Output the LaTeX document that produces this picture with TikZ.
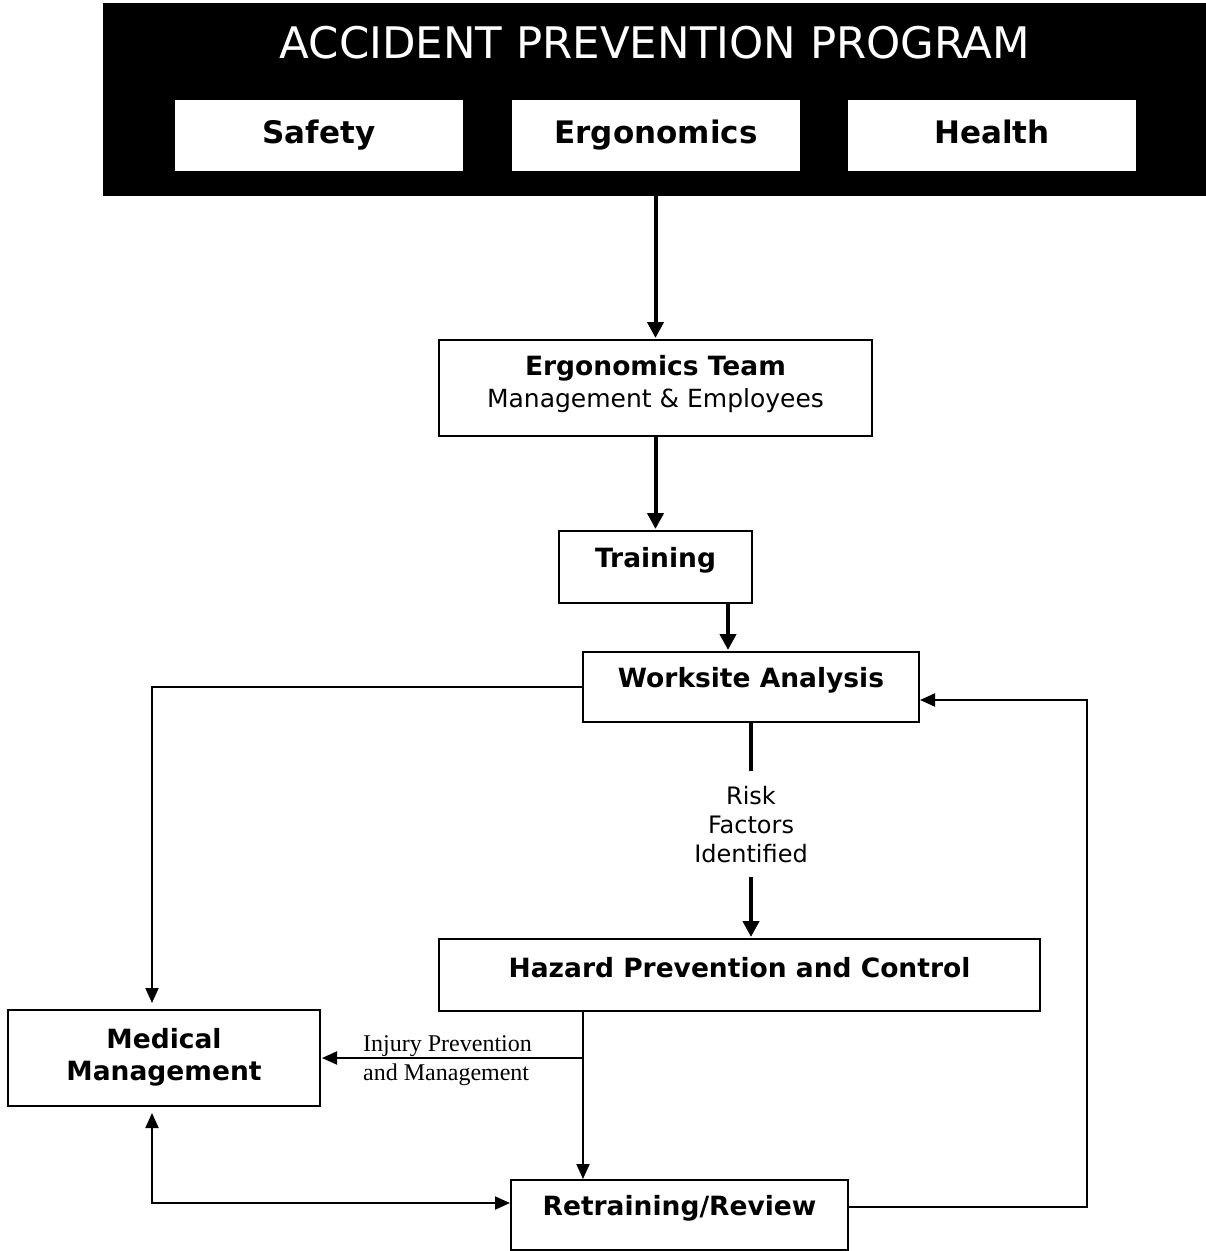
\documentclass[tikz,border=0pt]{standalone}
\usepackage{fontspec}
\setmainfont{DejaVu Sans}
\newfontfamily\notefont{Liberation Serif}
\usetikzlibrary{arrows.meta}
\begin{document}
\begin{tikzpicture}[x=1pt,y=-1pt,
  box/.style={draw, line width=2pt, fill=white, inner sep=0pt},
  boxtext/.style={inner sep=0pt, align=center, font=\fontsize{26.5}{32}\selectfont\bfseries},
  tab/.style={fill=white, inner sep=0pt, text height=23pt, text depth=7pt,
    font=\fontsize{31}{37}\selectfont\bfseries},
  mainflow/.style={line width=4pt, -{Triangle[length=16pt,width=16pt]}},
  sideflow/.style={line width=2pt, -{Triangle[length=15pt,width=13pt]}},
  bothflow/.style={line width=2pt, {Triangle[length=15pt,width=13pt]}-{Triangle[length=15pt,width=13pt]}},
  flowlabel/.style={fill=white, align=center, inner xsep=2pt, inner ysep=15pt,
    font=\fontsize{24}{29}\selectfont},
  notelabel/.style={inner sep=0pt, align=left, font=\notefont\fontsize{24}{29}\selectfont}
]
\path[use as bounding box] (0,0) rectangle (1206,1251);

% program banner
\node[fill=black, minimum width=1103pt, minimum height=193pt, inner sep=0pt, anchor=north west]
  (banner) at (103,3) {};
\node[text=white, inner sep=0pt, font=\fontsize{43.5}{50}\selectfont] (title) at (655,43)
  {ACCIDENT PREVENTION PROGRAM};
\node[tab, minimum width=288pt, minimum height=71pt] (safety) at (319,135.5) {Safety};
\node[tab, minimum width=288pt, minimum height=71pt] (ergo) at (656,135.5) {Ergonomics};
\node[tab, minimum width=288pt, minimum height=71pt] (health) at (992,135.5) {Health};

% flow boxes
\node[box, minimum width=433pt, minimum height=96pt,
  label={[boxtext, yshift=3.5pt]center:Ergonomics Team\\{\mdseries\fontsize{25}{32}\selectfont Management \& Employees}}]
  (team) at (655.5,388) {};
\node[box, minimum width=193pt, minimum height=72pt,
  label={[boxtext, yshift=7pt]center:Training}] (training) at (655.5,567) {};
\node[box, minimum width=336pt, minimum height=70pt,
  label={[boxtext, yshift=7pt]center:Worksite Analysis}] (worksite) at (751,687) {};
\node[box, minimum width=601pt, minimum height=72pt,
  label={[boxtext, yshift=7pt]center:Hazard Prevention and Control}] (hazard) at (739.5,975) {};
\node[box, minimum width=312pt, minimum height=96pt,
  label={[boxtext, yshift=1pt]center:Medical\\Management}] (medical) at (164,1058) {};
\node[box, minimum width=337pt, minimum height=70pt,
  label={[boxtext, yshift=7pt]center:Retraining/Review}] (retrain) at (679.5,1215) {};

% routing points
\coordinate (trainx) at (728,0);
\coordinate (medx) at (152,0);
\coordinate (hazx) at (583,0);
\coordinate (loopx) at (1087,0);
\coordinate (medin) at (medical.north -| medx);
\coordinate (medout) at (medical.south -| medx);
\coordinate (retin) at ([yshift=12pt]retrain.west);
\coordinate (retout) at ([yshift=8pt]retrain.east);
\coordinate (workin) at ([yshift=-13pt]worksite.east);

% main sequence
\draw[mainflow, shorten >=1pt] (banner.south -| team.north) -- (team.north);
\draw[mainflow, shorten >=1pt] (team.south) -- (training.north);
\draw[mainflow, shorten >=1pt] (training.south -| trainx) -- (worksite.north -| trainx);
\draw[mainflow, shorten >=1pt] (worksite.south) -- (hazard.north -| worksite.south)
  node[flowlabel, pos=0.47] (risk) {Risk\\Factors\\Identified};

% side routes
\draw[sideflow, shorten >=6pt] (worksite.west) -| (medin);
\draw[sideflow] (hazard.south -| hazx) -- (retrain.north -| hazx);
\draw[sideflow, shorten >=1pt] (medical.east -| hazx) -- (medical.east);
\node[notelabel, anchor=west] (injury) at (363,1060.5) {Injury Prevention\\and Management};
\draw[bothflow, shorten <=6pt] (medout) |- (retin);
\draw[sideflow] (retout) -| (workin -| loopx) -- (workin);
\end{tikzpicture}
\end{document}
